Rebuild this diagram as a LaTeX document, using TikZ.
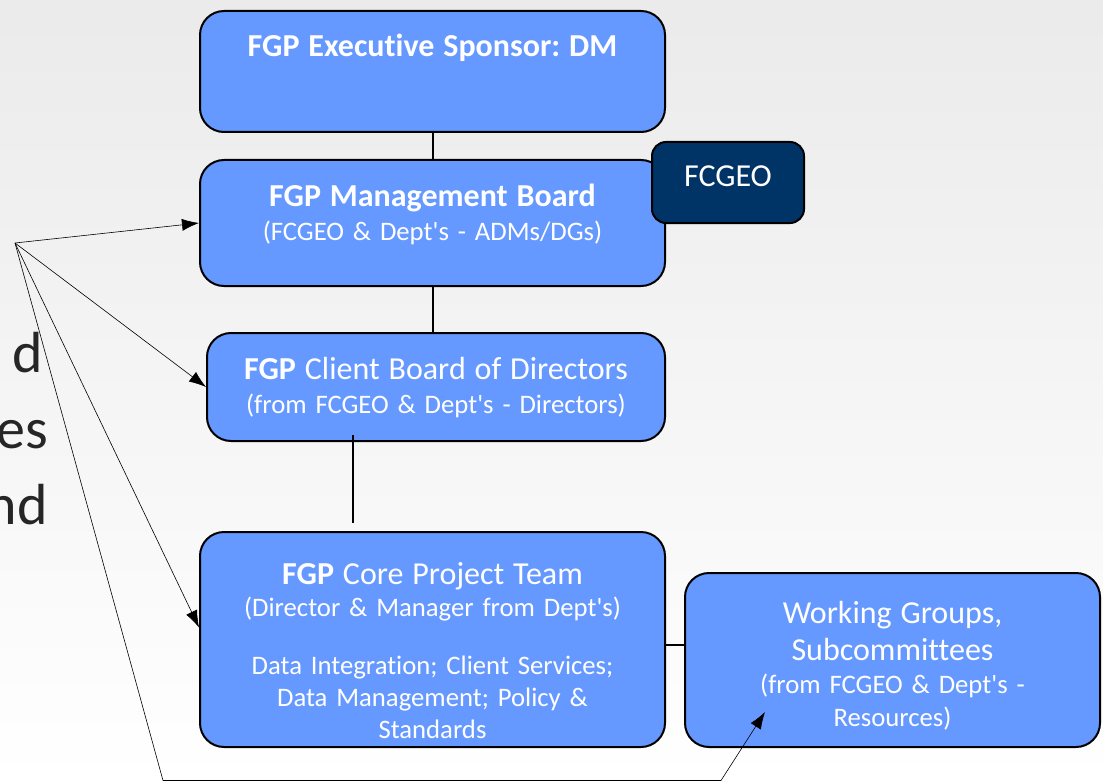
\documentclass[tikz,border=0pt]{standalone}
\usepackage{fontspec}
\setmainfont{Carlito}[Ligatures={TeXOff,NoCommon}]
\usetikzlibrary{arrows.meta}
\frenchspacing

\definecolor{boxblue}{HTML}{6699FF}
\definecolor{navybox}{HTML}{003366}
\tikzset{
  box/.style={draw, line width=2pt, fill=boxblue, rounded corners=24pt, text=white, align=center, anchor=north, inner xsep=4pt, inner ysep=0pt, font=\fontsize{26.7}{34}\selectfont},
  link/.style={line width=2pt},
  pointer/.style={line width=0.6pt, -{Latex[length=17pt,width=12pt]}},
}

\begin{document}
\begin{tikzpicture}[x=1pt,y=-1pt]
\useasboundingbox (0,0) rectangle (1103,781);
\shade[top color=black!8, bottom color=white] (0,0) rectangle (1103,781);

% slide text cut off on the left
\node[anchor=base east, inner sep=0pt, text=black!85, font=\fontsize{58}{64}\selectfont] (w1) at (43,372) {d};
\node[anchor=base east, inner sep=0pt, text=black!85, font=\fontsize{58}{64}\selectfont] (w2) at (48,448) {es};
\node[anchor=base east, inner sep=0pt, text=black!85, font=\fontsize{58}{64}\selectfont] (w3) at (48,524) {nd};

\node[box, text width=457pt, text height=46pt, text depth=75pt] (exec) at (432.5,10) {\fontsize{32}{34}\selectfont\bfseries FGP Executive Sponsor: DM};
\node[box, text width=457pt, text height=46pt, text depth=80pt] (mgmt) at (432.5,159) {{\fontsize{32}{34}\selectfont\bfseries FGP Management Board}\\(FCGEO \& Dept's - ADMs/DGs)};
\node[box, fill=navybox, rounded corners=14pt, text width=144pt, text height=44pt, text depth=37pt, font=\fontsize{32}{34}\selectfont] (fcgeo) at (728,141) {FCGEO};
\node[box, text width=450pt, text height=46pt, text depth=62pt] (client) at (436,332) {{\fontsize{32}{34}\selectfont\textbf{FGP} Client Board of Directors}\\(from FCGEO \& Dept's - Directors)};
\node[box, text width=457pt, text height=52pt, text depth=163pt, font=\fontsize{26.7}{32}\selectfont] (core) at (432.5,531) {{\fontsize{32}{32}\selectfont\textbf{FGP} Core Project Team}\\(Director \& Manager from Dept's)\\[26pt]Data Integration; Client Services;\\Data Management; Policy \&\\Standards};
\node[box, text width=407pt, text height=50pt, text depth=124pt, font=\fontsize{26.7}{33}\selectfont] (working) at (892.5,572) {{\fontsize{32}{33}\selectfont Working Groups,\\[4pt]Subcommittees}\\(from FCGEO \& Dept's -\\Resources)};

% connectors
\draw[link] (exec) -- (mgmt);
\draw[link] (mgmt.south) -- (mgmt.south |- client.north);
\coordinate (cb) at ([xshift=-83pt,yshift=7pt]client.south);
\draw[link] (cb) -- ([yshift=8pt]cb |- core.north);
\draw[link] ([yshift=-5pt]core.east) -- ([yshift=-5pt]core.east -| working.west);

% arrows
\coordinate (src) at (15,243);
\coordinate (bl) at (163,780.5);
\coordinate (br) at (721,780.5);
\coordinate (wtip) at (765,712);
\draw[pointer] (src) -- (mgmt.west);
\draw[pointer] (src) -- (client.west);
\draw[pointer] (src) -- ([yshift=12pt]core.west);
\draw[pointer] (src) -- (bl) -- (br) -- (wtip);
\end{tikzpicture}
\end{document}
